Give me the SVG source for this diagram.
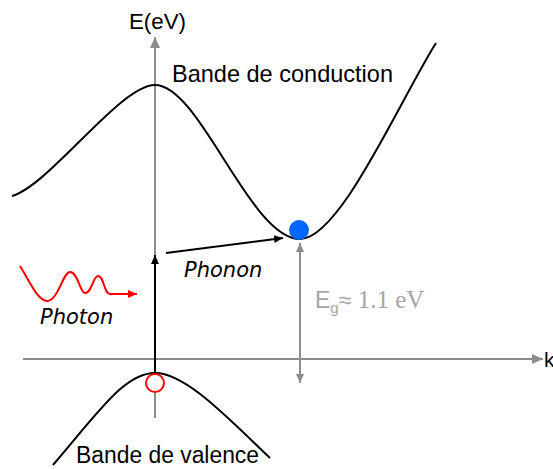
<svg xmlns="http://www.w3.org/2000/svg" width="553" height="469" viewBox="0 0 553 469">
<style>
.sans{font-family:"Liberation Sans",Arial,sans-serif;fill:#000}
.ital{font-family:"DejaVu Sans",sans-serif;font-style:italic;font-size:21px;fill:#000}
.band{fill:none;stroke:#000;stroke-width:2}
.gray{fill:none;stroke:#8c8c8c;stroke-width:2}
</style>
<defs>
<marker id="ag" markerUnits="userSpaceOnUse" markerWidth="12" markerHeight="12" viewBox="0 0 12 12" refX="11" refY="6" orient="auto"><path d="M0,1 L11,6 L0,11 z" fill="#8c8c8c"/></marker>
<marker id="ags" markerUnits="userSpaceOnUse" markerWidth="10" markerHeight="10" viewBox="0 0 10 10" refX="9" refY="5" orient="auto-start-reverse"><path d="M0,1 L9,5 L0,9 z" fill="#8c8c8c"/></marker>
<marker id="ab" markerUnits="userSpaceOnUse" markerWidth="10" markerHeight="10" viewBox="0 0 10 10" refX="9" refY="5" orient="auto"><path d="M0,1 L9,5 L0,9 z" fill="#000"/></marker>
<marker id="ar" markerUnits="userSpaceOnUse" markerWidth="10" markerHeight="10" viewBox="0 0 10 10" refX="9" refY="5" orient="auto"><path d="M0,1 L9,5 L0,9 z" fill="#ff0000"/></marker>
</defs>
<rect width="553" height="469" fill="#fff"/>
<g id="axes">
<line class="gray" x1="155" y1="418" x2="155" y2="37" marker-end="url(#ag)"/>
<line class="gray" x1="23" y1="359" x2="543" y2="359" marker-end="url(#ag)"/>
<text id="label-E" class="sans" x="129" y="29" font-size="22" textLength="57" lengthAdjust="spacingAndGlyphs">E(eV)</text>
<text id="label-k" class="sans" x="544" y="367" font-size="21">k</text>
</g>
<g id="conduction-band">
<path class="band" d="M12,196 C50,185 120,85 155,85 C200,85 250,239 300,239 C340,239 400,100 436,43"/>
<text class="sans" x="172" y="82" font-size="24" textLength="221" lengthAdjust="spacingAndGlyphs">Bande de conduction</text>
</g>
<g id="valence-band">
<path class="band" d="M53,465 C100,410 125,373 155,373 C185,373 225,415 270,458"/>
<text class="sans" x="76" y="463" font-size="23" textLength="183" lengthAdjust="spacingAndGlyphs">Bande de valence</text>
</g>
<g id="connectors">
<line x1="155" y1="373" x2="155" y2="255" stroke="#000" stroke-width="2" marker-end="url(#ab)"/>
<line x1="166" y1="253" x2="283" y2="238" stroke="#000" stroke-width="2" marker-end="url(#ab)"/>
<line class="gray" x1="300" y1="243" x2="300" y2="383" marker-start="url(#ags)" marker-end="url(#ags)"/>
<path d="M20,266 C30,282 38,301 47,301 C58,301 63,272 70,272 C78,272 80,293 85,293 C92,293 93,276 98,276 C104,276 104,294 110,294 L137,294" fill="none" stroke="#ff0000" stroke-width="2" marker-end="url(#ar)"/>
</g>
<g id="photon">
<text class="ital" x="40" y="324">Photon</text>
</g>
<g id="phonon">
<text class="ital" x="184" y="277">Phonon</text>
</g>
<g id="electron">
<circle cx="299" cy="230" r="10" fill="#0066ff"/>
</g>
<g id="hole">
<circle cx="155" cy="383" r="9" fill="#fff" stroke="#ff0000" stroke-width="2"/>
</g>
<g id="gap-label">
<text x="315" y="308" fill="#a6a6a6" font-family="Liberation Sans,Arial,sans-serif" font-size="23">E<tspan font-size="15" dy="5">g</tspan><tspan dy="-5">≈ </tspan><tspan font-family="Liberation Serif,serif" font-size="25">1.1 eV</tspan></text>
</g>
</svg>
